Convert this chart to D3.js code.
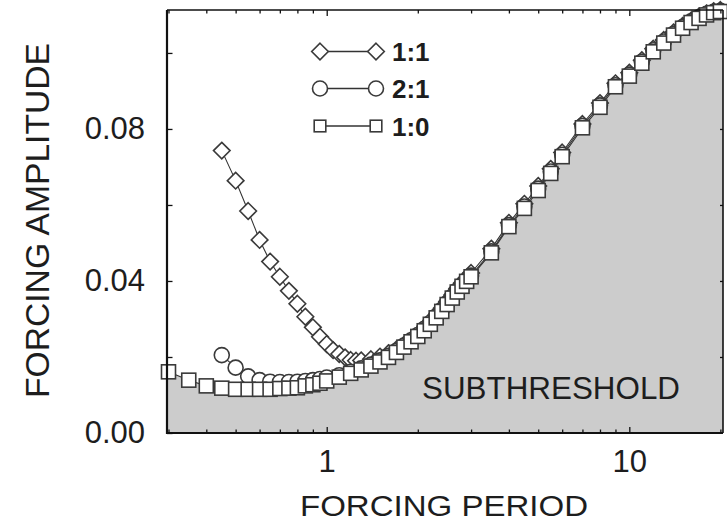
<!DOCTYPE html>
<html>
<head>
<meta charset="utf-8">
<script src="https://cdn.jsdelivr.net/npm/d3@7"></script>
<style>
  body { margin: 0; background: #ffffff; }
  svg { display: block; }
  text { font-family: "Liberation Sans", Arial, Helvetica, sans-serif; fill: #1d1d1d; }
</style>
</head>
<body>
<svg id="chart" width="727" height="522"></svg>
<script>
// Forcing period values sampled for each locking ratio
const period10 = [0.3,0.35,0.4,0.45,0.5,0.55,0.6,0.65,0.7,0.75,0.8,0.85,0.9,0.95,1.0,
  1.1,1.2,1.3,1.4,1.5,1.6,1.7,1.8,1.9,2.0,2.1,2.2,2.3,2.4,2.5,2.6,2.7,2.8,2.9,3.0,
  3.5,4.0,4.5,5.0,5.5,6,7,8,9,10,11,12,13,14,15,16,17,18,19,20];
const amp10 = [0.0161,0.0139,0.0124,0.0118,0.0115,0.0115,0.0115,0.0115,0.0117,0.0118,0.0119,0.0124,0.0127,0.0131,0.0137,
  0.0147,0.0157,0.0166,0.0176,0.0187,0.0199,0.0212,0.0226,0.0240,0.0254,0.0269,0.0286,0.0303,0.0320,0.0338,0.0355,0.0371,0.0386,0.0399,0.0411,
  0.0474,0.0543,0.0591,0.0638,0.0683,0.0727,0.0803,0.0857,0.0911,0.0939,0.0973,0.1003,0.1026,0.1047,0.1065,0.1080,0.1091,0.1100,0.1106,0.1109];

const period21 = [0.45,0.5,0.55,0.6,0.65,0.7,0.75,0.8,0.85,0.9,0.95,1.0,
  1.1,1.2,1.3,1.4,1.5,1.6,1.7,1.8,1.9,2.0,2.1,2.2,2.3,2.4,2.5,2.6,2.7,2.8,2.9,3.0,
  3.5,4.0,4.5,5.0,5.5,6,7,8,9,10,11,12,13,14,15,16,17,18,19,20];
const amp21 = [0.0205,0.0172,0.0149,0.0139,0.0135,0.0134,0.0134,0.0135,0.0137,0.0139,0.0142,0.0146,
  0.0152,0.0161,0.0170,0.0180,0.0191,0.0203,0.0216,0.0230,0.0244,0.0258,0.0274,0.0290,0.0307,0.0324,0.0342,0.0359,0.0375,0.0389,0.0402,0.0414,
  0.0478,0.0547,0.0596,0.0643,0.0688,0.0732,0.0808,0.0862,0.0915,0.0943,0.0977,0.1007,0.1030,0.1050,0.1068,0.1083,0.1094,0.1103,0.1108,0.1111];

const period11 = [0.45,0.5,0.55,0.6,0.65,0.7,0.75,0.8,0.85,0.9,0.95,1.0,1.05,1.1,1.15,1.2,1.25,1.3,
  1.4,1.5,1.6,1.7,1.8,1.9,2.0,2.1,2.2,2.3,2.4,2.5,2.6,2.7,2.8,2.9,3.0,
  3.5,4.0,4.5,5.0,5.5,6,7,8,9,10,11,12,13,14,15,16,17,18,19,20];
const amp11 = [0.0743,0.0664,0.0584,0.0508,0.0451,0.0411,0.0374,0.0340,0.0306,0.0278,0.0253,0.0234,0.0218,0.0208,0.0199,0.0192,0.0190,0.0191,
  0.0194,0.0201,0.0210,0.0220,0.0232,0.0245,0.0259,0.0275,0.0292,0.0310,0.0328,0.0346,0.0363,0.0380,0.0395,0.0408,0.0421,
  0.0485,0.0553,0.0603,0.0650,0.0695,0.0738,0.0813,0.0868,0.0920,0.0948,0.0981,0.1011,0.1034,0.1054,0.1071,0.1085,0.1096,0.1104,0.1110,0.1113];

const xMajorTicks = [1, 10];
const xMinorTicks = [0.3,0.4,0.5,0.6,0.7,0.8,0.9,2,3,4,5,6,7,8,9,20];
const yMajorTicks = [0, 0.04, 0.08];
const yMinorTicks = [0.02, 0.06, 0.10];
const yTickLabels = ["0.00", "0.04", "0.08"];
const legendLabels = ["1:1", "2:1", "1:0"];

const plot = { left: 167, right: 723, top: 10, bottom: 433 };
const svg = d3.select("#chart");

const x = d3.scaleLog().domain([0.2966, 20.4]).range([plot.left, plot.right]);
const y = d3.scaleLinear().domain([0, 0.1113]).range([plot.bottom, plot.top]);

const toPoints = (ps, as) => ps.map((p, i) => ({ p, a: as[i] }));
const s10 = toPoints(period10, amp10);
const s21 = toPoints(period21, amp21);
const s11 = toPoints(period11, amp11);

svg.append("clipPath").attr("id", "plotClip")
  .append("rect")
  .attr("x", plot.left).attr("y", plot.top)
  .attr("width", plot.right - plot.left).attr("height", plot.bottom - plot.top);

// Subthreshold region: everything beneath the 1:0 boundary
const dom = x.domain();
const areaPts = [{ p: dom[0], a: s10[0].a }, ...s10, { p: dom[1], a: s10[s10.length - 1].a }];
svg.append("path")
  .datum(areaPts)
  .attr("clip-path", "url(#plotClip)")
  .attr("fill", "#cccccc")
  .attr("d", d3.area().x(d => x(d.p)).y0(y(0)).y1(d => y(d.a)));

svg.append("text")
  .attr("x", 422).attr("y", 399)
  .attr("font-size", 31)
  .attr("textLength", 258).attr("lengthAdjust", "spacingAndGlyphs")
  .text("SUBTHRESHOLD");

// Connecting lines
const line = d3.line().x(d => x(d.p)).y(d => y(d.a));
[s11, s21, s10].forEach(s => {
  svg.append("path").datum(s)
    .attr("fill", "none").attr("stroke", "#333").attr("stroke-width", 1.1)
    .attr("d", line);
});

const markStroke = "#3a3a3a";
const diamondPath = h => `M0,${-h}L${h},0L0,${h}L${-h},0Z`;

function drawDiamonds(g, data, h) {
  g.selectAll("path.dia").data(data).join("path").attr("class", "dia")
    .attr("transform", d => `translate(${x(d.p)},${y(d.a)})`)
    .attr("d", diamondPath(h))
    .attr("fill", "#fff").attr("stroke", markStroke).attr("stroke-width", 1.6);
}
function drawCircles(g, data, r) {
  g.selectAll("circle").data(data).join("circle")
    .attr("cx", d => x(d.p)).attr("cy", d => y(d.a)).attr("r", r)
    .attr("fill", "#fff").attr("stroke", markStroke).attr("stroke-width", 1.6);
}
function drawSquares(g, data, s) {
  g.selectAll("rect").data(data).join("rect")
    .attr("x", d => x(d.p) - s / 2).attr("y", d => y(d.a) - s / 2)
    .attr("width", s).attr("height", s)
    .attr("fill", "#fff").attr("stroke", markStroke).attr("stroke-width", 1.6);
}

drawDiamonds(svg.append("g"), s11, 8.3);
drawCircles(svg.append("g"), s21, 7.5);
drawSquares(svg.append("g"), s10, 14);

// Frame and inward ticks
const axisG = svg.append("g").attr("stroke", "#111");
axisG.append("line").attr("x1", plot.left).attr("x2", plot.left).attr("y1", plot.top).attr("y2", plot.bottom + 1).attr("stroke-width", 2.2);
axisG.append("line").attr("x1", plot.left - 1).attr("x2", plot.right).attr("y1", plot.bottom).attr("y2", plot.bottom).attr("stroke-width", 2.2);
axisG.append("line").attr("x1", plot.left).attr("x2", plot.right).attr("y1", plot.top).attr("y2", plot.top).attr("stroke-width", 1.6);
axisG.append("line").attr("x1", plot.right).attr("x2", plot.right).attr("y1", plot.top).attr("y2", plot.bottom).attr("stroke-width", 1.6);

function tickStyle(g) { g.select(".domain").remove(); g.selectAll("line").attr("stroke", "#111").attr("stroke-width", 1.3); }

svg.append("g").attr("transform", `translate(0,${plot.bottom})`)
  .call(d3.axisBottom(x).tickValues(xMajorTicks).tickSize(-6).tickPadding(17).tickFormat(d3.format("d")))
  .call(tickStyle)
  .call(g => g.selectAll("text").attr("font-size", 31).attr("fill", "#1d1d1d").attr("font-family", null));
svg.append("g").attr("transform", `translate(0,${plot.bottom})`)
  .call(d3.axisBottom(x).tickValues(xMinorTicks).tickSize(-3.5).tickFormat(""))
  .call(tickStyle);
svg.append("g").attr("transform", `translate(0,${plot.top})`)
  .call(d3.axisTop(x).tickValues(xMajorTicks).tickSize(-6).tickFormat(""))
  .call(tickStyle);
svg.append("g").attr("transform", `translate(0,${plot.top})`)
  .call(d3.axisTop(x).tickValues(xMinorTicks).tickSize(-3.5).tickFormat(""))
  .call(tickStyle);

svg.append("g").attr("transform", `translate(${plot.left},0)`)
  .call(d3.axisLeft(y).tickValues(yMajorTicks).tickSize(-5.5).tickPadding(22).tickFormat((d, i) => yTickLabels[i]))
  .call(tickStyle)
  .call(g => g.selectAll("text").attr("font-size", 31).attr("fill", "#1d1d1d").attr("font-family", null));
svg.append("g").attr("transform", `translate(${plot.left},0)`)
  .call(d3.axisLeft(y).tickValues(yMinorTicks).tickSize(-5.5).tickFormat(""))
  .call(tickStyle);
svg.append("g").attr("transform", `translate(${plot.right},0)`)
  .call(d3.axisRight(y).tickValues(yMajorTicks.concat(yMinorTicks).filter(v => v > 0)).tickSize(-3).tickFormat(""))
  .call(tickStyle);

// Axis titles
svg.append("text")
  .attr("x", 300).attr("y", 516)
  .attr("font-size", 29)
  .attr("textLength", 288).attr("lengthAdjust", "spacingAndGlyphs")
  .text("FORCING PERIOD");
svg.append("text")
  .attr("transform", "translate(49,398) rotate(-90)")
  .attr("font-size", 34)
  .attr("textLength", 355).attr("lengthAdjust", "spacingAndGlyphs")
  .text("FORCING AMPLITUDE");

// Legend
const legendRows = [51.5, 88.5, 126];
const lg = svg.append("g");
legendRows.forEach((ry, i) => {
  lg.append("line").attr("x1", 320).attr("x2", 376).attr("y1", ry).attr("y2", ry)
    .attr("stroke", "#333").attr("stroke-width", 1.5);
  [320, 376].forEach(cx => {
    if (i === 0) {
      lg.append("path").attr("transform", `translate(${cx},${ry})`).attr("d", diamondPath(8.3))
        .attr("fill", "#fff").attr("stroke", markStroke).attr("stroke-width", 1.6);
    } else if (i === 1) {
      lg.append("circle").attr("cx", cx).attr("cy", ry).attr("r", 7.5)
        .attr("fill", "#fff").attr("stroke", markStroke).attr("stroke-width", 1.6);
    } else {
      lg.append("rect").attr("x", cx - 5.8).attr("y", ry - 5.8).attr("width", 11.6).attr("height", 11.6)
        .attr("fill", "#fff").attr("stroke", markStroke).attr("stroke-width", 1.6);
    }
  });
  lg.append("text").attr("x", 392).attr("y", ry + 9.5)
    .attr("font-size", 26).attr("font-weight", "bold")
    .text(legendLabels[i]);
});
</script>
</body>
</html>
